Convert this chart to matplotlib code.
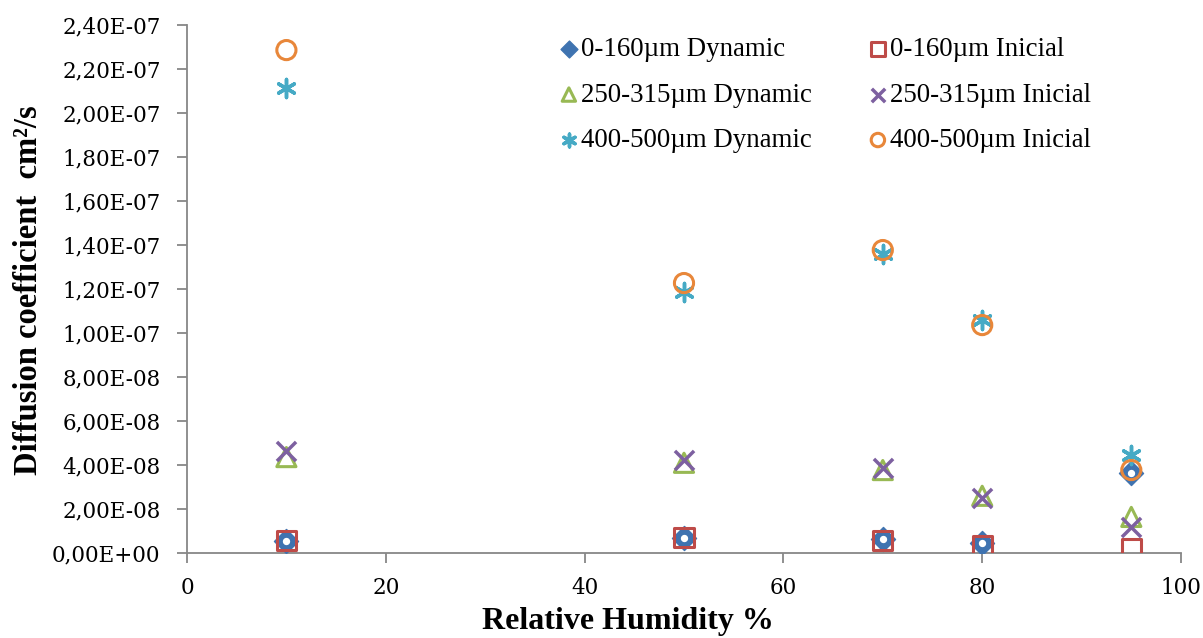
#!/usr/bin/env python3
# -*- coding: utf-8 -*-

"""Diffusion coefficient vs relative humidity scatter."""

import matplotlib.pyplot as plt
from matplotlib.ticker import FuncFormatter

RH = [10, 50, 70, 80, 95]

D_0_160_DYN = [0.55e-8, 0.68e-8, 0.64e-8, 0.45e-8, 3.64e-8]
D_0_160_INI = [0.55e-8, 0.72e-8, 0.55e-8, 0.36e-8, 0.18e-8]
D_250_315_DYN = [4.36e-8, 4.10e-8, 3.77e-8, 2.60e-8, 1.64e-8]
D_250_315_INI = [4.64e-8, 4.23e-8, 3.86e-8, 2.50e-8, 1.18e-8]
D_400_500_DYN = [2.114e-7, 1.186e-7, 1.36e-7, 1.059e-7, 4.45e-8]
D_400_500_INI = [2.286e-7, 1.227e-7, 1.377e-7, 1.036e-7, 3.77e-8]

LABELS = ["0-160\u00b5m Dynamic", "0-160\u00b5m Inicial",
          "250-315\u00b5m Dynamic", "250-315\u00b5m Inicial",
          "400-500\u00b5m Dynamic", "400-500\u00b5m Inicial"]

BLUE = "#3F73B0"
RED = "#BE4B48"
GREEN = "#98B954"
PURPLE = "#7D60A0"
TEAL = "#46AAC5"
ORANGE = "#E8873A"


def sci_comma(v, _pos):
    s = "{:.2E}".format(v)
    return s.replace(".", ",")


def main():
    plt.rcParams["font.family"] = ["Liberation Serif", "DejaVu Serif"]
    fig = plt.figure(figsize=(12.03, 6.38), dpi=100)
    ax = fig.add_axes([187 / 1203, 85 / 638, 994 / 1203, 528 / 638])

    h = {}
    h[0] = ax.scatter(RH, D_0_160_DYN, marker="D", s=150, color=BLUE,
                      zorder=3)
    ax.scatter(RH, D_0_160_DYN, marker="o", s=18, color="white", zorder=4)
    h[1] = ax.scatter(RH, D_0_160_INI, marker="s", s=190, facecolors="none",
                      edgecolors=RED, linewidths=2.2, zorder=3)
    h[2] = ax.scatter(RH, D_250_315_DYN, marker="^", s=190,
                      facecolors="none", edgecolors=GREEN, linewidths=2.2,
                      zorder=3)
    h[3] = ax.scatter(RH, D_250_315_INI, marker="x", s=190, color=PURPLE,
                      linewidths=2.5, zorder=3)
    h[4] = ax.scatter(RH, D_400_500_DYN, marker=(6, 2, 0), s=170, color=TEAL,
                      linewidths=2.5, zorder=3)
    h[5] = ax.scatter(RH, D_400_500_INI, marker="o", s=190, facecolors="none",
                      edgecolors=ORANGE, linewidths=2.2, zorder=3)

    ax.set_xlim(0, 100)
    ax.set_ylim(0, 2.4e-7)
    ax.set_xticks(range(0, 101, 20))
    ax.set_yticks([i * 2e-8 for i in range(13)])
    ax.yaxis.set_major_formatter(FuncFormatter(sci_comma))
    for side in ("top", "right"):
        ax.spines[side].set_visible(False)
    for side in ("left", "bottom"):
        ax.spines[side].set_color("#878787")
        ax.spines[side].set_linewidth(1.3)
    ax.tick_params(axis="both", direction="out", length=7, width=1.3,
                   color="#878787", labelcolor="black")
    ax.tick_params(axis="y", pad=12)
    ax.tick_params(axis="x", pad=10)
    for lab in ax.get_xticklabels() + ax.get_yticklabels():
        lab.set_fontfamily(["DejaVu Serif"])
        lab.set_fontsize(15.5)

    fig.text(628 / 1203, 16 / 638, "Relative Humidity %", fontsize=23,
             fontweight="bold", ha="center", va="center")
    fig.text(29 / 1203, 348 / 638, "Diffusion coefficient  cm\u00b2/s",
             fontsize=23.5, fontweight="bold", ha="center", va="center",
             rotation=90)

    order = [0, 2, 4, 1, 3, 5]
    ax.legend([h[i] for i in order], [LABELS[i] for i in order], ncol=2,
              frameon=False, fontsize=19.4, loc="upper left",
              bbox_to_anchor=(0.372, 0.977), borderpad=0, borderaxespad=0,
              handletextpad=0.0, columnspacing=2.0, labelspacing=0.76,
              handlelength=0.9, markerscale=0.7)

    fig.savefig("out.png", dpi=100)


if __name__ == "__main__":
    main()
